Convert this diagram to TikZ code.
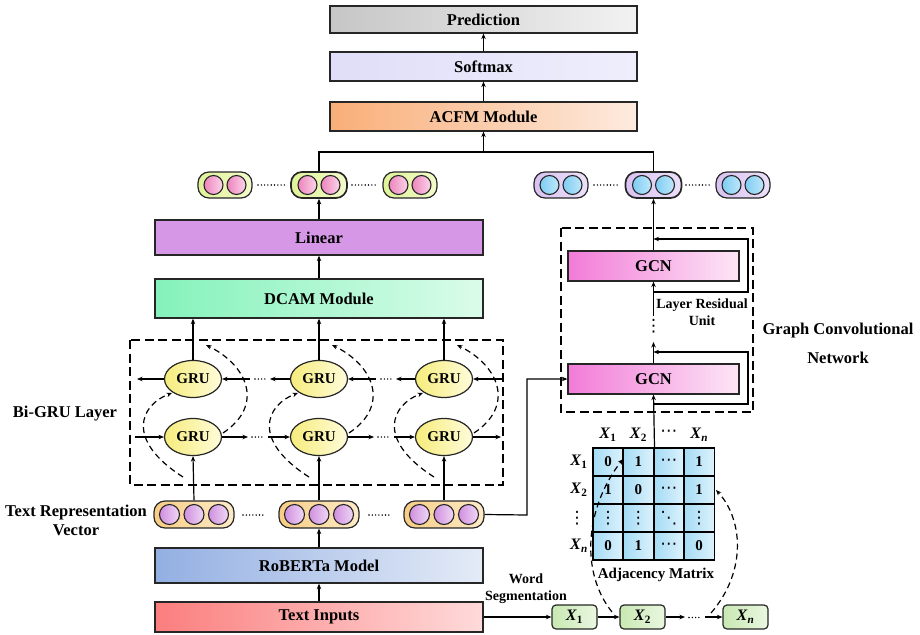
\documentclass[tikz,border=0pt]{standalone}
\usepackage{fontspec}
\setmainfont{Liberation Serif}
\newfontfamily\symf[BoldFont=DejaVu Sans]{DejaVu Sans}
\usetikzlibrary{arrows.meta,shapes.geometric,calc}
\definecolor{predL}{HTML}{C6C6C6}
\definecolor{predR}{HTML}{F2F2F2}
\definecolor{softL}{HTML}{E0DEF8}
\definecolor{softR}{HTML}{EFEEFC}
\definecolor{acfmL}{HTML}{F9AE78}
\definecolor{acfmR}{HTML}{FDEBDF}
\definecolor{linC}{HTML}{D597E6}
\definecolor{dcamL}{HTML}{84F2BA}
\definecolor{dcamR}{HTML}{DAFCEA}
\definecolor{robL}{HTML}{93AFE2}
\definecolor{robR}{HTML}{E4EBF7}
\definecolor{inL}{HTML}{FB7E7E}
\definecolor{inR}{HTML}{FFDADA}
\definecolor{gruL}{HTML}{F6EC7C}
\definecolor{gruR}{HTML}{FFFCDA}
\definecolor{pyL}{HTML}{E0F398}
\definecolor{pyR}{HTML}{F3FBCB}
\definecolor{pkL}{HTML}{EE84BC}
\definecolor{pkR}{HTML}{FBD6EA}
\definecolor{ppL}{HTML}{D8C2F1}
\definecolor{ppR}{HTML}{ECE1F9}
\definecolor{blL}{HTML}{7FCDF3}
\definecolor{blR}{HTML}{BFE7FA}
\definecolor{trL}{HTML}{F8CD84}
\definecolor{trR}{HTML}{FDEBC8}
\definecolor{vcL}{HTML}{D08FDF}
\definecolor{vcR}{HTML}{EFD8F5}
\definecolor{gcnL}{HTML}{F27CD8}
\definecolor{gcnR}{HTML}{FDE6F6}
\definecolor{xL}{HTML}{C8E8B2}
\definecolor{xR}{HTML}{EAF7E0}
\definecolor{cellL}{HTML}{A4DBF5}
\definecolor{cellR}{HTML}{DDF2FC}
\newcommand{\xv}[1]{\textbf{\textit{X}}\textsubscript{\textbf{#1}}}
\newcommand{\hd}{{\symf\fontsize{17}{17}\selectfont ⋯}}
\newcommand{\vd}{{\symf\fontsize{17}{17}\selectfont ⋮}}
\newcommand{\dd}{{\symf\fontsize{17}{17}\selectfont ⋱}}
\begin{document}
\begin{tikzpicture}[x=1pt,y=-1pt,
  >={Stealth[length=5.5pt,width=4.5pt]},
  every node/.style={font=\fontsize{15}{17}\selectfont\bfseries, inner sep=0pt},
  blk/.style={draw=black!85, line width=1.3pt, rectangle, font=\fontsize{16.5}{19}\selectfont\bfseries},
  gru/.style={draw=black!85, ellipse, line width=1.2pt, minimum width=57, minimum height=37, left color=gruL, right color=gruR},
  pill/.style={draw=black!85, line width=1.2pt, rectangle, rounded corners=11pt, minimum height=26},
  dotc/.style={draw=black!85, circle, line width=1.1pt, minimum size=19},
  xbox/.style={draw=black!85, line width=1.2pt, rectangle, rounded corners=4pt, minimum width=45, minimum height=24, left color=xL, right color=xR, font=\fontsize{16}{18}\selectfont\bfseries},
  cell/.style={draw=black, line width=1.8pt, rectangle, minimum width=30.4, minimum height=28, left color=cellL, right color=cellR},
  ar/.style={->, line width=1.2pt},
  ln/.style={line width=1.2pt},
  dsh/.style={->, line width=1.2pt, dash pattern=on 6pt off 4pt},
  dbox/.style={line width=1.4pt, dash pattern=on 9pt off 4.5pt},
  dotline/.style={line width=1.6pt, line cap=round, dash pattern=on 0pt off 3.3pt},
  lbl/.style={font=\fontsize{16.5}{19}\selectfont\bfseries, align=center},
  slbl/.style={font=\fontsize{14}{17}\selectfont\bfseries, align=center}]
\useasboundingbox (0,0) rectangle (920,634);

% top stack
\node[blk, minimum width=307, minimum height=27, left color=predL, right color=predR] (pred) at (483.5,19.5) {Prediction};
\node[blk, minimum width=307, minimum height=29, left color=softL, right color=softR] (soft) at (483.5,66.5) {Softmax};
\node[blk, minimum width=307, minimum height=29, left color=acfmL, right color=acfmR] (acfm) at (483.5,116.5) {ACFM Module};
\draw[ar] (soft.north) -- (pred.south);
\draw[ar] (acfm.north) -- (soft.south);

% top pills
\foreach \n/\x/\w/\lw in {pl1/225/54/1.2, pl2/319/56/1.7, pl3/410/54/1.2}{
  \node[pill, minimum width=\w, line width=\lw pt, left color=pyL, right color=pyR] (\n) at (\x,185) {};
  \foreach \d in {-11.5,11.5} \node[dotc, left color=pkL, right color=pkR] at (\x+\d,185) {};
}
\foreach \n/\x/\w/\lw in {pr1/561/54/1.2, pr2/653.5/56/1.7, pr3/743/54/1.2}{
  \node[pill, minimum width=\w, line width=\lw pt, left color=ppL, right color=ppR] (\n) at (\x,185) {};
  \foreach \d in {-11.5,11.5} \node[dotc, left color=blL, right color=blR] at (\x+\d,185) {};
}
\draw[dotline] (258,185) -- (286,185);
\draw[dotline] (352,185) -- (377,185);
\draw[dotline] (594,185) -- (620,185);
\draw[dotline] (686,185) -- (710,185);
\coordinate (jn) at (483.5,152);
\draw[ln] (pl2.north) |- (jn) -| (pr2.north);
\draw[ar] (jn) -- (acfm.south);

% Linear, DCAM
\node[blk, minimum width=328, minimum height=35, fill=linC] (lin) at (319,237.5) {Linear};
\node[blk, minimum width=328, minimum height=39, left color=dcamL, right color=dcamR] (dcam) at (319,298.5) {DCAM Module};
\draw[ar] (lin.north) -- (pl2.south);
\draw[ar] (dcam.north) -- (lin.south);

% Bi-GRU
\draw[dbox] (130,340) rectangle (503,485);
\node[lbl] (bigru) at (65,414) {Bi-GRU Layer};
\foreach \i/\x in {1/193,2/319,3/444}{
  \node[gru] (gt\i) at (\x,379) {GRU};
  \node[gru] (gb\i) at (\x,437) {GRU};
  \draw[ar] (gt\i.north) -- (gt\i.north |- dcam.south);
}
\coordinate (tR) at (502,379);
\coordinate (tL) at (137,379);
\draw[ar] (tR) -- (gt3.east);
\draw[ar] (gt1.west) -- (tL);
\coordinate (ta1) at (270,379); \coordinate (ta2) at (250,379);
\coordinate (tb1) at (396,379); \coordinate (tb2) at (376,379);
\draw[ar] (gt2.west) -- (ta1);
\draw[ar] (ta2) -- (gt1.east);
\draw[ar] (gt3.west) -- (tb1);
\draw[ar] (tb2) -- (gt2.east);
\draw[dotline] (255,379) -- (266,379);
\draw[dotline] (381,379) -- (392,379);
\coordinate (bL) at (135,437);
\coordinate (bR) at (501,437);
\draw[ar] (bL) -- (gb1.west);
\draw[ar] (gb3.east) -- (bR);
\coordinate (ba1) at (248,437); \coordinate (ba2) at (268,437);
\coordinate (bb1) at (374,437); \coordinate (bb2) at (394,437);
\draw[ar] (gb1.east) -- (ba1);
\draw[ar] (ba2) -- (gb2.west);
\draw[ar] (gb2.east) -- (bb1);
\draw[ar] (bb2) -- (gb3.west);
\draw[dotline] (252,437) -- (264,437);
\draw[dotline] (378,437) -- (390,437);
\foreach \o in {0,126,251}{
  \draw[dsh] (183+\o,477) .. controls (125+\o,440) and (140+\o,405) .. (172+\o,393);
  \draw[dsh] (223+\o,433) .. controls (265+\o,405) and (247+\o,365) .. (206+\o,345);
}

% Text representation vectors
\node[lbl] (trvl) at (76,520.5) {Text Representation\\Vector};
\foreach \n/\x in {tv1/194, tv2/319, tv3/444}{
  \node[pill, minimum width=80, minimum height=27, left color=trL, right color=trR] (\n) at (\x,514.5) {};
  \foreach \d in {-24.5,0,24.5} \node[dotc, minimum size=20, left color=vcL, right color=vcR] at (\x+\d,514.5) {};
}
\draw[dotline] (243,515) -- (265,515);
\draw[dotline] (369,515) -- (392,515);
\foreach \i in {1,2,3}{
  \draw[ar] (tv\i.north) -- (gb\i.south);
}

% RoBERTa, Text Inputs
\node[blk, minimum width=328, minimum height=35, left color=robL, right color=robR] (rob) at (319,565.5) {RoBERTa Model};
\node[blk, minimum width=328, minimum height=30, left color=inL, right color=inR] (inp) at (319,617) {Text Inputs};
\draw[ar] (rob.north) -- (tv2.south);
\draw[ar] (inp.north) -- (rob.south);

% GCN
\draw[dbox] (561,228) rectangle (753,412);
\node[blk, minimum width=171, minimum height=30, left color=gcnL, right color=gcnR] (gcn1) at (653.5,266) {GCN};
\node[blk, minimum width=171, minimum height=30, left color=gcnL, right color=gcnR] (gcn0) at (653.5,379) {GCN};
\draw[ar] (gcn1.north) -- (pr2.south);
\coordinate (ga) at (653.5,316);
\coordinate (gb) at (653.5,342);
\draw[ar] (ga) -- (gcn1.south);
\draw[ar] (gcn0.north) -- (gb);
\node (gdots) at (653.5,326.5) {\vd};
\coordinate (r1a) at (653.5,292);
\coordinate (r1b) at (748,239);
\coordinate (r1c) at (653.5,239);
\draw[ar] (r1a) -| (r1b) -- (r1c);
\coordinate (r0a) at (653.5,404);
\coordinate (r0b) at (748,352);
\coordinate (r0c) at (653.5,352);
\draw[ar] (r0a) -| (r0b) -- (r0c);
\node[slbl] (lru) at (702,312) {Layer Residual\\Unit};
\node[lbl, font=\fontsize{16.5}{29}\selectfont\bfseries] (gcnl) at (838,343.5) {Graph Convolutional\\Network};
\coordinate (tvr) at (527,515);
\draw[ar] (tv3.east) -- (tvr) |- (gcn0.west);

% Word segmentation
\node[xbox] (x1) at (574.5,617) {\xv{1}};
\node[xbox] (x2) at (642.5,617) {\xv{2}};
\node[xbox] (xn) at (745.5,617) {\xv{\textit{n}}};
\draw[ar] (inp.east) -- (x1.west);
\draw[ar] (x1.east) -- (x2.west);
\coordinate (xa) at (685,617); \coordinate (xb) at (705,617);
\draw[ar] (x2.east) -- (xa);
\draw[ar] (xb) -- (xn.west);
\draw[dotline] (689,617.5) -- (700,617.5);
\node[slbl] (ws) at (526,588.5) {Word\\Segmentation};

% Adjacency matrix
\foreach \c/\x/\e in {1/608/0, 2/638.4/1, 3/668.8/\hd, 4/699.2/1}{
  \node[cell] (m1\c) at (\x,462) {\e};
}
\foreach \c/\x/\e in {1/608/1, 2/638.4/0, 3/668.8/\hd, 4/699.2/1}{
  \node[cell] (m2\c) at (\x,490) {\e};
}
\foreach \c/\x/\e in {1/608/\vd, 2/638.4/\vd, 3/668.8/\dd, 4/699.2/\vd}{
  \node[cell] (m3\c) at (\x,518) {\e};
}
\foreach \c/\x/\e in {1/608/0, 2/638.4/1, 3/668.8/\hd, 4/699.2/0}{
  \node[cell] (m4\c) at (\x,546) {\e};
}
\node[font=\fontsize{16}{18}\selectfont\bfseries] (h1) at (608,435) {\xv{1}};
\node[font=\fontsize{16}{18}\selectfont\bfseries] (h2) at (638.4,435) {\xv{2}};
\node (h3) at (668.8,433) {\hd};
\node[font=\fontsize{16}{18}\selectfont\bfseries] (h4) at (699.2,435) {\xv{\textit{n}}};
\node[font=\fontsize{16}{18}\selectfont\bfseries] (rh1) at (579,462) {\xv{1}};
\node[font=\fontsize{16}{18}\selectfont\bfseries] (rh2) at (579,490) {\xv{2}};
\node (rh3) at (577,518) {\vd};
\node[font=\fontsize{16}{18}\selectfont\bfseries] (rh4) at (579,546) {\xv{\textit{n}}};
\node[slbl, font=\fontsize{15}{17}\selectfont\bfseries] (adj) at (656,575) {Adjacency Matrix};
\draw[ar] (m12.north east) -- (gcn0.south);
\draw[dsh] (612,612) .. controls (580,572) and (585,508) .. (623,459);
\draw[dsh] (711,613) .. controls (748,570) and (742,518) .. (716,490);
\end{tikzpicture}
\end{document}
